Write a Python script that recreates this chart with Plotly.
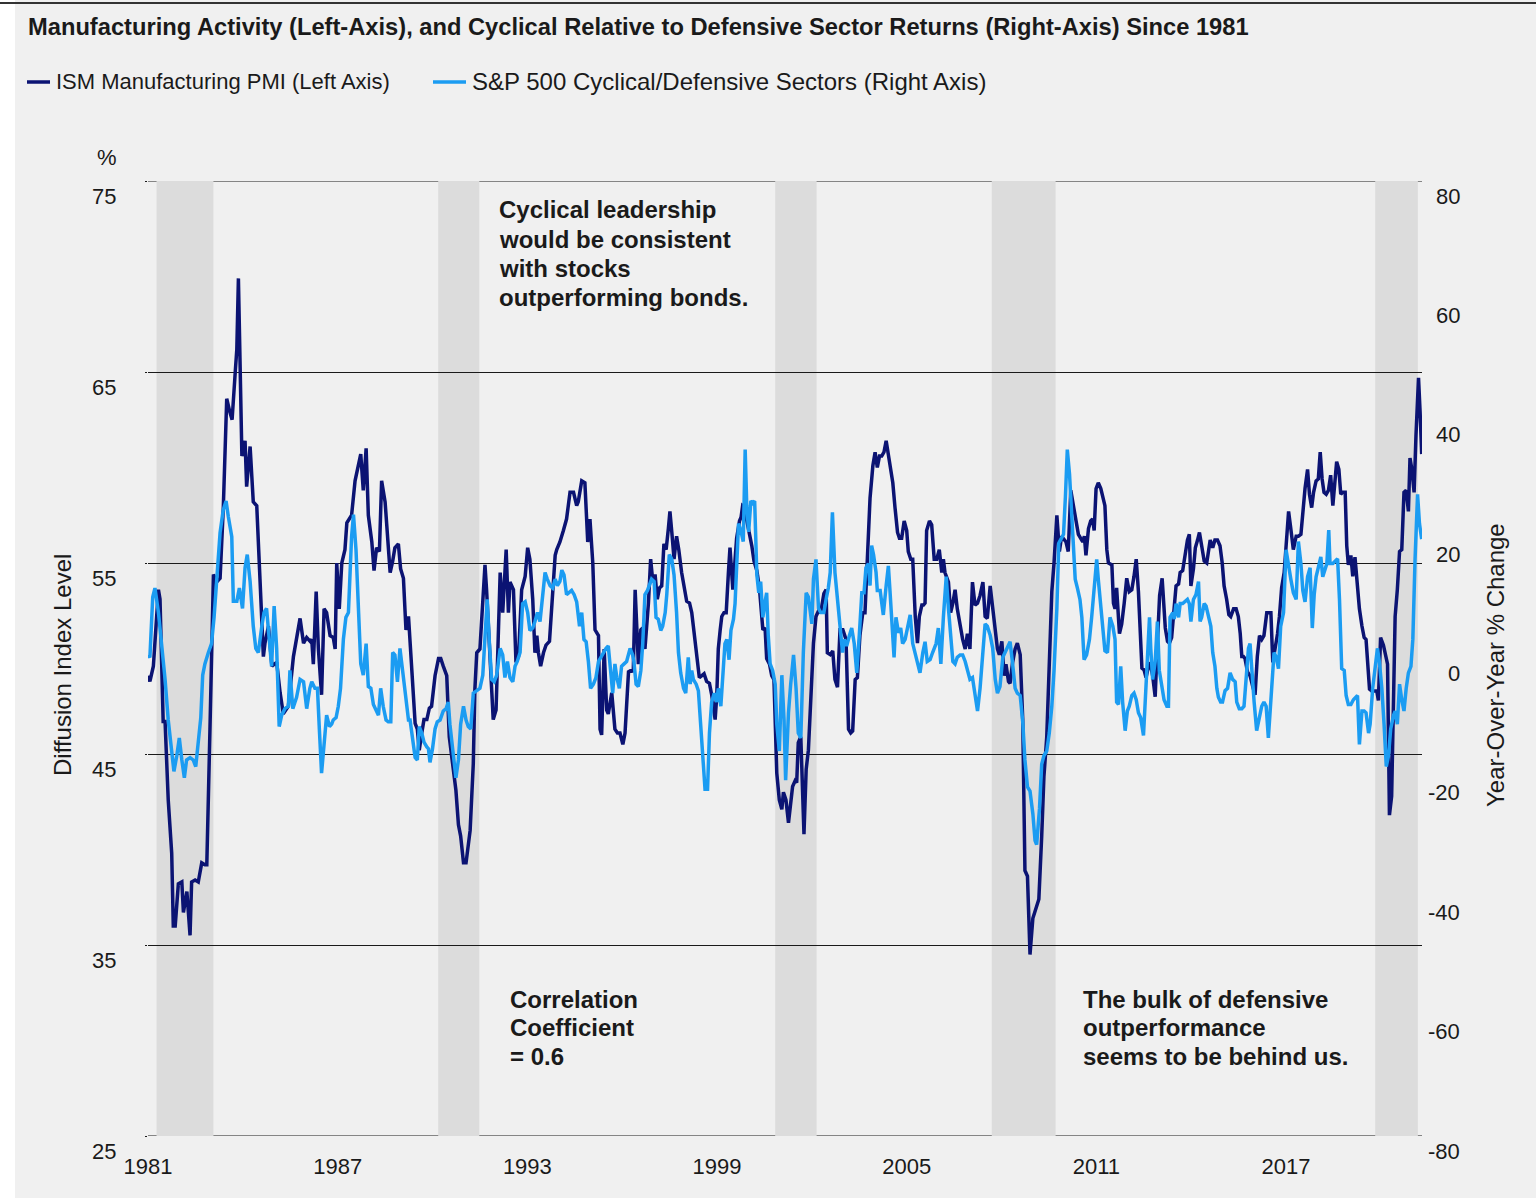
import plotly.graph_objects as go

# ---------------------------------------------------------------- data
# ISM Manufacturing PMI (left axis)
ism_year = [
    1981.00, 1981.06, 1981.17, 1981.33, 1981.38, 1981.48, 1981.54, 1981.64, 1981.75, 1981.80, 1981.86, 1981.96,
    1982.07, 1982.12, 1982.23, 1982.28, 1982.33, 1982.38, 1982.49, 1982.59, 1982.70, 1982.80, 1982.86, 1982.96,
    1983.07, 1983.17, 1983.28, 1983.38, 1983.49, 1983.59, 1983.66, 1983.76, 1983.81, 1983.86, 1983.97,
    1984.07, 1984.12, 1984.23, 1984.33, 1984.44, 1984.54, 1984.65, 1984.70, 1984.81, 1984.92,
    1985.07, 1985.18, 1985.28, 1985.44, 1985.60, 1985.81, 1985.92,
    1986.02, 1986.13, 1986.18, 1986.23, 1986.32, 1986.39, 1986.49, 1986.57, 1986.65, 1986.76, 1986.86, 1986.92, 1986.97,
    1987.05, 1987.13, 1987.18, 1987.23, 1987.29, 1987.37, 1987.44, 1987.55, 1987.65, 1987.73, 1987.81, 1987.90, 1987.97,
    1988.08, 1988.15, 1988.23, 1988.32, 1988.39, 1988.50, 1988.57, 1988.66, 1988.74, 1988.81, 1988.92, 1988.99,
    1989.08, 1989.16, 1989.24, 1989.34, 1989.45, 1989.52, 1989.58, 1989.66, 1989.73, 1989.82, 1989.90, 1989.97,
    1990.08, 1990.19, 1990.26, 1990.34, 1990.45, 1990.53, 1990.64, 1990.74, 1990.82, 1990.89, 1990.98,
    1991.06, 1991.19, 1991.29, 1991.34, 1991.40, 1991.50, 1991.56, 1991.66, 1991.71, 1991.82, 1991.92,
    1992.01, 1992.06, 1992.14, 1992.22, 1992.33, 1992.40, 1992.45, 1992.56, 1992.64, 1992.72, 1992.82, 1992.93,
    1993.01, 1993.08, 1993.17, 1993.24, 1993.30, 1993.35, 1993.42, 1993.51, 1993.59, 1993.70, 1993.77, 1993.88, 1993.93,
    1994.03, 1994.14, 1994.24, 1994.35, 1994.46, 1994.56, 1994.61, 1994.72, 1994.82, 1994.91, 1994.98,
    1995.07, 1995.14, 1995.25, 1995.30, 1995.35, 1995.43, 1995.51, 1995.56, 1995.67, 1995.77, 1995.85, 1995.93,
    1996.02, 1996.09, 1996.20, 1996.30, 1996.35, 1996.41, 1996.46, 1996.51, 1996.59, 1996.65, 1996.72, 1996.83, 1996.90, 1996.97,
    1997.04, 1997.11, 1997.18, 1997.25, 1997.32, 1997.39, 1997.46, 1997.51, 1997.57, 1997.64, 1997.72, 1997.79, 1997.88, 1997.96,
    1998.04, 1998.13, 1998.20, 1998.25, 1998.30, 1998.38, 1998.44, 1998.52, 1998.59, 1998.67, 1998.76, 1998.83, 1998.88, 1998.94, 1998.99,
    1999.04, 1999.10, 1999.15, 1999.22, 1999.29, 1999.36, 1999.41, 1999.50, 1999.57, 1999.62, 1999.71, 1999.76, 1999.81, 1999.89, 1999.92, 1999.97,
    2000.04, 2000.10, 2000.17, 2000.26, 2000.34, 2000.38, 2000.45, 2000.52, 2000.57, 2000.66, 2000.73, 2000.80, 2000.89, 2000.97,
    2001.05, 2001.10, 2001.18, 2001.26, 2001.39, 2001.47, 2001.52, 2001.57, 2001.65, 2001.75, 2001.82, 2001.89, 2001.96,
    2002.05, 2002.13, 2002.21, 2002.28, 2002.38, 2002.45, 2002.49, 2002.58, 2002.66, 2002.73, 2002.81, 2002.89, 2002.98,
    2003.08, 2003.16, 2003.23, 2003.29, 2003.37, 2003.44, 2003.52, 2003.61, 2003.68, 2003.74, 2003.79, 2003.84, 2003.93,
    2004.00, 2004.07, 2004.14, 2004.21, 2004.28, 2004.35, 2004.42, 2004.49, 2004.56, 2004.63, 2004.71, 2004.77, 2004.84, 2004.92,
    2005.00, 2005.05, 2005.13, 2005.19, 2005.27, 2005.34, 2005.40, 2005.48, 2005.53, 2005.58, 2005.63, 2005.72, 2005.79, 2005.87, 2005.95,
    2006.03, 2006.11, 2006.16, 2006.21, 2006.32, 2006.39, 2006.46, 2006.53, 2006.60, 2006.69, 2006.77, 2006.85, 2006.92,
    2007.00, 2007.08, 2007.16, 2007.24, 2007.32, 2007.41, 2007.48, 2007.55, 2007.64, 2007.72, 2007.80, 2007.87, 2007.93,
    2008.01, 2008.08, 2008.14, 2008.22, 2008.27, 2008.35, 2008.43, 2008.50, 2008.59, 2008.67, 2008.74, 2008.82, 2008.90, 2008.99,
    2009.09, 2009.18, 2009.27, 2009.34, 2009.43, 2009.51, 2009.59, 2009.66, 2009.75, 2009.83, 2009.90,
    2010.04, 2010.11, 2010.19, 2010.27, 2010.36, 2010.43, 2010.50, 2010.57, 2010.62, 2010.67, 2010.75, 2010.82, 2010.88, 2010.93, 2010.99,
    2011.06, 2011.14, 2011.20, 2011.27, 2011.33, 2011.38, 2011.49, 2011.54, 2011.59, 2011.64, 2011.73, 2011.80, 2011.88, 2011.96,
    2012.04, 2012.12, 2012.19, 2012.26, 2012.33, 2012.38, 2012.44, 2012.51, 2012.57, 2012.65, 2012.70, 2012.78, 2012.86, 2012.91,
    2013.00, 2013.08, 2013.12, 2013.18, 2013.25, 2013.31, 2013.38, 2013.46, 2013.52, 2013.60, 2013.65, 2013.73, 2013.81, 2013.88, 2013.94, 2013.99,
    2014.07, 2014.13, 2014.20, 2014.26, 2014.33, 2014.41, 2014.49, 2014.54, 2014.60, 2014.68, 2014.75, 2014.83, 2014.91, 2014.98,
    2015.04, 2015.12, 2015.19, 2015.25, 2015.34, 2015.42, 2015.49, 2015.55, 2015.60, 2015.65, 2015.70, 2015.78, 2015.86, 2015.95,
    2016.02, 2016.09, 2016.16, 2016.23, 2016.30, 2016.39, 2016.52, 2016.58, 2016.65, 2016.73, 2016.79, 2016.86, 2016.94,
    2017.00, 2017.08, 2017.15, 2017.23, 2017.32, 2017.39, 2017.47, 2017.53, 2017.60, 2017.68, 2017.74, 2017.81, 2017.87, 2017.95,
    2018.02, 2018.08, 2018.14, 2018.20, 2018.27, 2018.34, 2018.41, 2018.48, 2018.55, 2018.60, 2018.67, 2018.73, 2018.79, 2018.87, 2018.92, 2018.97,
    2019.05, 2019.11, 2019.18, 2019.26, 2019.32, 2019.40, 2019.47, 2019.53, 2019.57, 2019.64, 2019.71, 2019.79, 2019.87, 2019.92, 2019.99,
    2020.08, 2020.13, 2020.21, 2020.27, 2020.34, 2020.45, 2020.52, 2020.59, 2020.66, 2020.73, 2020.80, 2020.87, 2020.92, 2020.98,
    2021.05, 2021.11, 2021.19, 2021.24, 2021.29,
]
ism_pmi = [
    49.1, 48.8, 49.6, 53.6, 53.1, 46.7, 46.7, 42.6, 39.8, 36.0, 36.0, 38.2,
    38.3, 36.7, 37.8, 36.7, 35.5, 38.3, 38.4, 38.3, 39.3, 39.2, 39.2, 46.3,
    54.4, 54.0, 54.2, 57.8, 63.6, 62.9, 62.5, 65.0, 66.2, 69.9, 60.6,
    61.4, 59.0, 61.1, 58.2, 58.0, 54.5, 50.1, 50.8, 51.7, 49.6,
    49.8, 48.2, 47.1, 47.5, 50.1, 52.1, 50.8,
    51.1, 50.9, 51.0, 49.7, 53.5, 50.5, 48.1, 52.6, 52.4, 51.2, 51.1, 50.5, 55.0,
    52.6, 55.0, 55.4, 55.7, 57.1, 57.3, 57.5, 59.3, 60.1, 60.7, 58.8, 61.0, 57.5,
    56.1, 54.6, 55.8, 55.6, 59.3, 58.2, 56.5, 54.5, 55.1, 55.8, 56.0, 54.7,
    54.2, 51.5, 52.2, 49.4, 46.6, 46.3, 45.2, 46.1, 46.8, 46.8, 47.4, 47.5,
    49.1, 50.0, 50.0, 49.6, 49.1, 45.9, 44.5, 43.1, 41.3, 40.7, 39.3,
    39.3, 41.0, 44.5, 48.4, 50.3, 50.5, 52.2, 54.9, 53.6, 49.8, 46.8,
    47.3, 50.5, 54.5, 52.4, 55.7, 52.4, 54.0, 53.6, 49.8, 50.1, 53.6, 54.3,
    55.8, 55.2, 53.1, 50.3, 51.2, 50.3, 49.6, 50.3, 50.7, 50.9, 52.6, 55.4, 55.7,
    56.1, 56.7, 57.3, 58.7, 58.7, 58.0, 58.2, 59.3, 59.2, 56.1, 57.3,
    55.0, 51.5, 51.2, 46.3, 46.0, 50.5, 47.3, 47.1, 48.2, 46.3, 46.1, 46.1,
    45.5, 46.1, 49.3, 49.4, 49.3, 53.6, 51.7, 49.7, 51.5, 51.6, 50.5, 52.9, 55.2, 54.0,
    54.4, 53.1, 53.7, 53.8, 56.0, 55.7, 56.8, 57.7, 56.6, 55.2, 56.4, 55.7, 54.5, 53.7,
    53.0, 52.9, 52.4, 51.7, 51.0, 49.8, 49.0, 49.1, 49.2, 48.8, 48.7, 48.1, 47.5, 46.8, 48.0,
    50.5, 51.5, 52.2, 52.4, 52.4, 54.5, 55.8, 53.6, 55.4, 56.3, 57.2, 57.4, 58.0, 57.9, 57.4, 57.0,
    56.5, 55.9, 55.1, 54.6, 53.7, 52.9, 51.5, 51.6, 50.0, 49.7, 49.1, 48.9, 44.0, 42.6,
    42.1, 43.0, 42.6, 41.4, 43.3, 43.6, 43.5, 45.6, 45.9, 40.8, 44.2, 45.2, 47.5,
    50.8, 52.2, 52.5, 52.4, 53.4, 53.6, 50.3, 50.2, 50.4, 48.9, 48.5, 51.5, 51.5,
    51.0, 46.3, 46.1, 46.2, 48.9, 49.0, 51.2, 52.4, 52.4, 54.5, 56.4, 58.4, 60.1,
    60.8, 60.0, 60.6, 60.6, 60.8, 61.4, 60.7, 59.9, 59.2, 57.9, 56.6, 56.3, 56.3, 57.2,
    56.7, 55.6, 55.2, 55.2, 52.2, 50.8, 52.2, 52.8, 52.8, 52.9, 56.7, 57.2, 57.0, 55.2, 55.2,
    55.7, 54.5, 55.2, 54.5, 54.0, 52.4, 52.9, 53.6, 52.6, 51.7, 51.0, 50.5, 51.3,
    50.5, 54.0, 52.8, 52.9, 53.3, 54.0, 52.2, 52.1, 53.8, 52.6, 51.3, 50.5, 50.2,
    50.9, 49.1, 49.7, 48.8, 48.7, 49.8, 50.5, 50.8, 50.2, 46.8, 38.9, 38.6, 34.5, 36.4,
    36.9, 37.4, 40.7, 43.8, 45.9, 50.3, 53.5, 55.0, 57.5, 55.6, 56.4,
    56.1, 55.6, 58.8, 58.0, 57.3, 56.5, 56.3, 56.1, 56.4, 55.4, 56.8, 57.2, 57.3, 56.7, 58.9,
    59.2, 58.9, 58.5, 58.0, 55.7, 55.0, 54.9, 52.9, 52.6, 53.7, 51.3, 51.8, 52.9, 54.2,
    53.5, 53.6, 54.3, 55.2, 53.5, 51.7, 49.5, 49.4, 49.0, 49.6, 49.8, 49.1, 48.0, 50.1,
    53.3, 54.2, 52.9, 51.6, 50.9, 50.8, 51.1, 52.9, 53.8, 53.9, 54.5, 54.6, 55.4, 56.2, 56.5, 53.8,
    54.7, 55.8, 56.2, 56.6, 55.9, 55.1, 55.0, 55.7, 56.2, 55.8, 56.2, 56.2, 55.9, 55.0,
    53.8, 53.1, 52.3, 52.2, 52.6, 52.6, 52.2, 51.3, 50.1, 50.1, 50.0, 49.3, 49.1, 48.5,
    48.1, 50.1, 51.2, 51.0, 51.2, 52.4, 52.4, 49.8, 50.5, 51.3, 52.2, 53.7, 54.5,
    55.9, 57.7, 56.8, 55.7, 56.4, 56.4, 56.5, 57.8, 58.9, 59.9, 58.6, 57.9, 58.7, 59.3,
    59.4, 60.8, 59.4, 58.7, 58.6, 58.8, 59.6, 58.0, 59.1, 60.3, 59.9, 58.6, 58.7, 58.7, 55.9, 54.9,
    55.4, 54.3, 55.3, 53.7, 52.6, 51.7, 51.1, 51.0, 49.8, 48.4, 48.3, 48.3, 48.3, 47.8, 51.1,
    50.7, 50.3, 49.7, 41.8, 42.8, 52.2, 53.6, 55.6, 55.7, 58.7, 58.8, 57.7, 60.5, 59.9,
    58.7, 61.7, 64.7, 62.9, 60.7,
]

# S&P 500 Cyclical / Defensive sectors, year-over-year % change (right axis)
sp_year = [
    1981.00, 1981.06, 1981.15, 1981.22, 1981.33, 1981.43, 1981.54, 1981.64, 1981.75, 1981.82, 1981.91, 1981.99,
    1982.07, 1982.15, 1982.22, 1982.33, 1982.43, 1982.51, 1982.59, 1982.67, 1982.73, 1982.80, 1982.91,
    1983.01, 1983.09, 1983.17, 1983.28, 1983.38, 1983.47, 1983.54, 1983.65, 1983.70, 1983.81, 1983.89, 1983.99,
    1984.07, 1984.14, 1984.23, 1984.33, 1984.41, 1984.49, 1984.60, 1984.67, 1984.75, 1984.86, 1984.91, 1984.99,
    1985.07, 1985.15, 1985.23, 1985.33, 1985.44, 1985.49, 1985.58, 1985.70, 1985.81, 1985.92,
    1986.02, 1986.12, 1986.18, 1986.28, 1986.36, 1986.42, 1986.49, 1986.57, 1986.65, 1986.74, 1986.81, 1986.86, 1986.95,
    1987.02, 1987.09, 1987.18, 1987.26, 1987.34, 1987.39, 1987.44, 1987.50, 1987.58, 1987.65, 1987.73, 1987.81, 1987.90, 1987.97,
    1988.05, 1988.13, 1988.21, 1988.29, 1988.36, 1988.44, 1988.53, 1988.60, 1988.68, 1988.74, 1988.81, 1988.89, 1988.97,
    1989.06, 1989.16, 1989.24, 1989.29, 1989.37, 1989.45, 1989.52, 1989.58, 1989.66, 1989.73, 1989.82, 1989.87, 1989.92,
    1990.00, 1990.08, 1990.15, 1990.24, 1990.34, 1990.43, 1990.50, 1990.55, 1990.64, 1990.74, 1990.82, 1990.89, 1990.98,
    1991.06, 1991.13, 1991.21, 1991.29, 1991.40, 1991.50, 1991.59, 1991.66, 1991.73, 1991.80, 1991.87, 1991.95,
    1992.03, 1992.14, 1992.22, 1992.29, 1992.37, 1992.45, 1992.54, 1992.61, 1992.68, 1992.77, 1992.85, 1992.93,
    1993.01, 1993.08, 1993.17, 1993.24, 1993.32, 1993.40, 1993.49, 1993.56, 1993.63, 1993.72, 1993.80, 1993.88, 1993.95,
    1994.03, 1994.09, 1994.16, 1994.24, 1994.33, 1994.40, 1994.48, 1994.56, 1994.65, 1994.72, 1994.79, 1994.86, 1994.93,
    1995.00, 1995.09, 1995.17, 1995.25, 1995.32, 1995.40, 1995.49, 1995.56, 1995.64, 1995.70, 1995.77, 1995.83, 1995.91, 1995.98,
    1996.06, 1996.14, 1996.25, 1996.33, 1996.37, 1996.44, 1996.51, 1996.59, 1996.65, 1996.72, 1996.80, 1996.86, 1996.93,
    1997.01, 1997.07, 1997.14, 1997.22, 1997.28, 1997.36, 1997.41, 1997.49, 1997.57, 1997.64, 1997.72, 1997.78, 1997.85, 1997.94,
    1998.01, 1998.09, 1998.15, 1998.20, 1998.25, 1998.34, 1998.41, 1998.48, 1998.55, 1998.62, 1998.70, 1998.76, 1998.83, 1998.91, 1998.99,
    1999.04, 1999.12, 1999.18, 1999.25, 1999.31, 1999.38, 1999.44, 1999.52, 1999.57, 1999.62, 1999.68, 1999.75, 1999.83, 1999.89, 1999.94,
    2000.00, 2000.07, 2000.13, 2000.19, 2000.26, 2000.32, 2000.38, 2000.45, 2000.52, 2000.57, 2000.62, 2000.68, 2000.76, 2000.84, 2000.89, 2000.97,
    2001.05, 2001.12, 2001.17, 2001.26, 2001.33, 2001.42, 2001.50, 2001.57, 2001.65, 2001.73, 2001.82, 2001.89,
    2002.00, 2002.05, 2002.13, 2002.21, 2002.28, 2002.38, 2002.45, 2002.52, 2002.58, 2002.65, 2002.73, 2002.81, 2002.89, 2002.97,
    2003.02, 2003.10, 2003.19, 2003.26, 2003.34, 2003.42, 2003.50, 2003.58, 2003.65, 2003.71, 2003.79, 2003.84, 2003.89, 2003.95,
    2004.03, 2004.07, 2004.16, 2004.21, 2004.26, 2004.35, 2004.42, 2004.47, 2004.53, 2004.60, 2004.66, 2004.74, 2004.81, 2004.87, 2004.95,
    2005.02, 2005.11, 2005.19, 2005.26, 2005.34, 2005.42, 2005.51, 2005.58, 2005.65, 2005.74, 2005.82, 2005.93,
    2006.00, 2006.08, 2006.16, 2006.25, 2006.32, 2006.46, 2006.53, 2006.60, 2006.69, 2006.77, 2006.85, 2006.92,
    2007.00, 2007.08, 2007.16, 2007.24, 2007.32, 2007.41, 2007.48, 2007.55, 2007.64, 2007.72, 2007.80, 2007.87, 2007.95,
    2008.04, 2008.11, 2008.18, 2008.27, 2008.35, 2008.43, 2008.50, 2008.59, 2008.67, 2008.74, 2008.82, 2008.90, 2008.99,
    2009.06, 2009.11, 2009.20, 2009.27, 2009.34, 2009.43, 2009.51, 2009.59, 2009.66, 2009.75, 2009.81, 2009.88, 2009.96,
    2010.02, 2010.08, 2010.15, 2010.22, 2010.27, 2010.33, 2010.40, 2010.48, 2010.54, 2010.61, 2010.69, 2010.78, 2010.85, 2010.93,
    2011.01, 2011.06, 2011.12, 2011.20, 2011.27, 2011.35, 2011.43, 2011.52, 2011.59, 2011.64, 2011.70, 2011.77, 2011.83, 2011.91, 2011.98,
    2012.04, 2012.12, 2012.19, 2012.26, 2012.33, 2012.40, 2012.49, 2012.57, 2012.65, 2012.68, 2012.72, 2012.78, 2012.86, 2012.93, 2012.99,
    2013.07, 2013.14, 2013.23, 2013.28, 2013.33, 2013.42, 2013.46, 2013.52, 2013.60, 2013.65, 2013.73, 2013.81, 2013.88, 2013.94, 2013.99,
    2014.07, 2014.15, 2014.23, 2014.28, 2014.33, 2014.41, 2014.47, 2014.54, 2014.62, 2014.68, 2014.75, 2014.81, 2014.86, 2014.93, 2014.99,
    2015.07, 2015.15, 2015.23, 2015.31, 2015.39, 2015.44, 2015.52, 2015.60, 2015.67, 2015.74, 2015.81, 2015.86, 2015.91, 2015.99,
    2016.07, 2016.16, 2016.23, 2016.30, 2016.37, 2016.44, 2016.55, 2016.62, 2016.69, 2016.76, 2016.83, 2016.92,
    2017.00, 2017.08, 2017.15, 2017.23, 2017.32, 2017.39, 2017.47, 2017.53, 2017.60, 2017.68, 2017.76, 2017.83, 2017.89, 2017.95,
    2018.02, 2018.10, 2018.16, 2018.24, 2018.29, 2018.35, 2018.39, 2018.48, 2018.55, 2018.63, 2018.69, 2018.76, 2018.84, 2018.90, 2018.97,
    2019.05, 2019.13, 2019.26, 2019.32, 2019.40, 2019.47, 2019.53, 2019.61, 2019.66, 2019.74, 2019.82, 2019.89, 2019.95,
    2020.03, 2020.10, 2020.17, 2020.24, 2020.31, 2020.40, 2020.45, 2020.52, 2020.59, 2020.66, 2020.73, 2020.80, 2020.87, 2020.95,
    2021.01, 2021.08, 2021.16, 2021.22, 2021.29,
]
sp_ratio = [
    0.6, 0.2, 10.3, 11.8, 7.7, 2.5, -3.5, -10.3, -15.5, -18.9, -16.3, -13.3,
    -17.0, -20.0, -17.0, -16.6, -17.0, -18.1, -14.0, -9.9, -2.8, -0.9, 1.0,
    2.5, 6.9, 12.2, 21.1, 24.9, 26.4, 23.8, 20.4, 9.6, 9.6, 11.8, 8.4,
    15.2, 17.4, 12.9, 5.4, 1.7, 1.0, 5.4, 7.7, 8.4, 1.7, -1.3, 8.8,
    1.7, -11.4, -9.5, -8.4, -8.0, -2.0, -8.4, -6.5, -3.5, -3.9,
    -8.4, -5.0, -3.9, -5.0, -5.0, -11.8, -19.2, -14.4, -9.5, -11.4, -11.0, -10.3, -9.9,
    -8.0, -5.0, 3.2, 6.9, 7.7, 14.4, 20.4, 24.1, 18.2, 9.2, -0.9, -2.8, 2.5, -4.7,
    -5.0, -7.7, -8.8, -9.5, -5.0, -8.0, -10.3, -10.6, -10.6, 1.0, 0.6, -3.9, 1.7,
    -2.0, -6.5, -10.3, -10.3, -14.0, -16.6, -17.0, -11.4, -12.5, -14.0, -14.8, -15.1, -17.4,
    -15.1, -11.8, -10.6, -10.3, -8.8, -8.4, -7.3, -11.0, -14.8, -20.0, -17.0, -11.0, -8.0,
    -10.3, -11.4, -11.8, -5.8, -5.4, -5.0, -2.8, 3.2, 9.9, 2.5, -3.5, -3.9,
    -2.8, 1.7, 0.6, -3.2, -0.5, -3.2, -3.9, -1.3, -0.5, 1.0, 9.2, 9.5,
    7.7, 4.7, 5.1, 6.2, 7.7, 6.2, 11.0, 14.4, 13.3, 12.2, 11.8, 13.3, 12.2,
    12.9, 14.8, 14.0, 10.7, 11.0, 11.4, 10.7, 9.5, 5.4, 7.7, 3.2, 2.8, -0.5,
    -5.0, -4.3, -3.2, -0.5, 0.2, 1.0, 1.7, 2.1, -1.7, -5.8, -0.9, -3.2, -5.0, -1.3,
    -0.9, -0.5, 1.7, 0.6, -0.5, -4.3, -4.7, -2.0, 2.5, 10.7, 11.4, 12.2, 13.3,
    12.9, 6.9, 6.6, 4.7, 5.4, 7.7, 10.7, 17.4, 16.6, 14.0, 7.7, 1.0, -2.4, -5.0,
    -5.8, 0.2, -4.3, -2.0, -3.5, -4.3, -5.4, -11.0, -17.7, -21.9, -21.9, -12.5, -7.3, -5.8, -7.3,
    -5.0, -8.0, -2.0, 2.5, 3.2, -0.2, 4.7, 6.6, 9.2, 16.6, 22.6, 21.5, 19.6, 35.0, 25.6,
    21.2, 26.4, 26.0, 26.4, 14.0, 11.0, 12.9, 6.9, 9.5, 11.0, 3.9, -0.9, -2.0, -4.3, -11.0, -15.5,
    -2.8, -10.3, -20.4, -9.1, -4.3, 0.6, -5.0, -12.5, -13.3, 1.0, 11.0, 10.3,
    5.8, 13.3, 16.6, 8.4, 7.7, 7.7, 9.9, 11.8, 14.4, 24.5, 14.4, 9.9, 5.4, 1.0,
    3.2, 2.1, 3.9, 5.1, 2.5, -2.4, 3.9, 11.0, 11.0, 15.2, 15.9, 12.2, 18.9, 17.4,
    14.4, 11.4, 11.4, 9.2, 7.3, 12.2, 15.5, 11.4, 6.2, 0.2, 6.9, 4.3, 5.1, 2.5, 3.2,
    5.1, 7.3, 2.5, 1.0, -0.5, -2.4, 1.0, 2.8, -0.5, -0.2, 1.0, 2.5,
    5.1, -0.9, 6.9, 13.7, 8.4, -0.5, -0.9, 0.2, 0.6, 0.6, -0.5, -2.0,
    -3.5, -3.2, -5.8, -8.8, -5.0, 1.0, 5.8, 5.4, 3.9, 1.7, -3.5, -5.8, -4.7,
    0.2, 1.0, 1.7, 2.8, -0.9, -5.0, -5.8, -6.2, -10.6, -17.0, -21.5, -22.2, -26.0,
    -30.5, -31.2, -25.2, -17.7, -16.3, -15.5, -12.5, -8.0, -2.0, 8.4, 19.3, 20.0, 20.8,
    27.1, 35.0, 30.9, 24.5, 18.9, 13.3, 11.8, 9.9, 6.9, -0.2, 0.6, 3.2, 6.9, 11.4,
    16.6, 13.3, 9.9, 4.7, 1.3, 1.0, 6.9, 5.4, 3.2, -7.3, -7.7, -1.3, -7.3, -12.1, -8.8,
    -8.0, -6.2, -5.8, -6.9, -9.1, -9.9, -12.9, -5.0, 2.5, 6.9, 1.7, -3.5, -0.5, 6.2, -2.0,
    -5.0, -6.9, -8.0, -8.0, 6.9, 7.7, 6.6, 9.2, 6.9, 9.2, 9.2, 9.5, 9.9, 9.2, 6.2,
    9.9, 10.7, 12.9, 6.2, 6.9, 9.2, 8.8, 6.9, 5.4, 1.0, -1.3, -5.0, -6.5, -7.3, -7.3,
    -5.4, -5.0, -2.4, -3.5, -3.9, -7.3, -8.4, -8.4, -8.0, -2.8, 1.7, 2.5, -2.0, -7.3,
    -12.1, -9.5, -8.0, -7.3, -8.0, -13.3, -5.0, 1.0, 0.2, -1.7, 5.4, 7.7,
    18.2, 15.2, 13.3, 11.0, 9.9, 19.6, 15.9, 11.4, 9.5, 13.7, 15.2, 5.1, 10.7, 13.7,
    15.2, 17.0, 13.7, 14.8, 15.9, 21.5, 15.9, 15.9, 16.3, 16.7, 9.9, -1.7, -2.0, -6.2, -7.7,
    -7.7, -6.9, -6.2, -14.4, -8.8, -8.8, -9.1, -12.5, -11.0, -5.0, -1.7, 1.7, -0.5,
    -5.0, -11.0, -18.1, -16.3, -11.8, -9.5, -8.8, -11.0, -4.3, -6.9, -8.8, -5.0, -2.4, -1.3,
    3.2, 16.6, 27.5, 22.6, 20.0,
]

if len(ism_year) != len(ism_pmi) or len(sp_year) != len(sp_ratio):
    raise SystemExit(f"length mismatch: {len(ism_year)} {len(ism_pmi)} {len(sp_year)} {len(sp_ratio)}")

# recession shading (as drawn)
recession_start = [1981.27, 1990.18, 2000.84, 2007.69, 2019.82]
recession_end = [1983.07, 1991.48, 2002.15, 2009.71, 2021.17]

x_tick_years = [1981, 1987, 1993, 1999, 2005, 2011, 2017]
left_ticks = [25, 35, 45, 55, 65, 75]
right_ticks = [-80, -60, -40, -20, 0, 20, 40, 60, 80]

title_text = ("Manufacturing Activity (Left-Axis), and Cyclical Relative to Defensive "
              "Sector Returns (Right-Axis) Since 1981")
ism_name = "ISM Manufacturing PMI (Left Axis)"
sp_name = "S&amp;P 500 Cyclical/Defensive Sectors (Right Axis)"
left_title = "Diffusion Index Level"
right_title = "Year-Over-Year % Change"
note_top = ["Cyclical leadership", "would be consistent", "with stocks", "outperforming bonds."]
note_corr = ["Correlation", "Coefficient", "= 0.6"]
note_def = ["The bulk of defensive", "outperformance", "seems to be behind us."]

# ---------------------------------------------------------------- style / layout
W, H = 1536, 1198
ML, MR, MT, MB = 148, 114, 181, 62
PW, PH = W - ML - MR, H - MT - MB
NAVY = "#0b1373"
SKY = "#1b9cf2"
BG = "#f0f0f0"
TXT = "#1a1a1a"
FONT = "Liberation Sans, Arial, Helvetica, sans-serif"


def fx(px):
    return (px - ML) / PW


def fy(py):
    return (MT + PH - py) / PH


fig = go.Figure()
fig.add_trace(go.Scatter(x=ism_year, y=ism_pmi, mode="lines", name="ISM Manufacturing PMI",
                         line=dict(color=NAVY, width=3.5), hoverinfo="skip", showlegend=False))
fig.add_trace(go.Scatter(x=sp_year, y=sp_ratio, mode="lines", name="S&P 500 Cyclical/Defensive",
                         yaxis="y2", line=dict(color=SKY, width=3.5), hoverinfo="skip", showlegend=False))

shapes = []
# edge gridlines (top 75, bottom 25) which plotly omits at the range limits
for v in (left_ticks[0], left_ticks[-1]):
    shapes.append(dict(type="line", xref="paper", yref="y", x0=0, x1=1, y0=v, y1=v,
                       line=dict(color="#1a1a1a", width=1), layer="below"))
for s, e in zip(recession_start, recession_end):
    shapes.append(dict(type="rect", xref="x", yref="paper", x0=s, x1=e, y0=0, y1=1,
                       fillcolor="#dcdcdc", line=dict(width=0), layer="between"))
# page frame: white left strip and dark top rule
shapes.append(dict(type="rect", xref="paper", yref="paper", x0=fx(0), x1=fx(15), y0=fy(H), y1=fy(0),
                   fillcolor="white", line=dict(width=0), layer="below"))
shapes.append(dict(type="line", xref="paper", yref="paper", x0=fx(0), x1=fx(W), y0=fy(3), y1=fy(3),
                   line=dict(color="#333333", width=2)))
# legend keys
shapes.append(dict(type="line", xref="paper", yref="paper", x0=fx(27), x1=fx(50), y0=fy(82), y1=fy(82),
                   line=dict(color=NAVY, width=3.5)))
shapes.append(dict(type="line", xref="paper", yref="paper", x0=fx(433), x1=fx(466), y0=fy(82), y1=fy(82),
                   line=dict(color=SKY, width=3.5)))

ann = []
ann.append(dict(text="<b>" + title_text + "</b>", x=fx(26), y=fy(27), xanchor="left", yanchor="middle",
                font=dict(size=23.7, color=TXT, family=FONT)))
ann.append(dict(text=ism_name, x=fx(54), y=fy(82), xanchor="left", yanchor="middle",
                font=dict(size=22, color=TXT, family=FONT)))
ann.append(dict(text=sp_name, x=fx(470), y=fy(82), xanchor="left", yanchor="middle",
                font=dict(size=24, color=TXT, family=FONT)))
ann.append(dict(text="%", x=fx(119), y=fy(158), xanchor="right", yanchor="middle",
                font=dict(size=22, color=TXT, family=FONT)))
ann.append(dict(text=left_title, x=fx(62), y=fy(665), xanchor="center", yanchor="middle", textangle=-90,
                font=dict(size=24, color=TXT, family=FONT)))
ann.append(dict(text=right_title, x=fx(1495), y=fy(665), xanchor="center", yanchor="middle", textangle=-90,
                font=dict(size=24, color=TXT, family=FONT)))
for v in right_ticks:
    ann.append(dict(text=str(v), xref="paper", yref="y2", x=fx(1462), y=v, yshift=-15,
                    xanchor="right", yanchor="middle", font=dict(size=22, color=TXT, family=FONT)))
for i, line in enumerate(note_top):
    ann.append(dict(text="<b>" + line + "</b>", x=fx(497), y=fy(210 + 29 * i), xanchor="left",
                    yanchor="middle", font=dict(size=24, color=TXT, family=FONT)))
for i, line in enumerate(note_corr):
    ann.append(dict(text="<b>" + line + "</b>", x=fx(508), y=fy(999 + 28.5 * i), xanchor="left",
                    yanchor="middle", font=dict(size=24, color=TXT, family=FONT)))
for i, line in enumerate(note_def):
    ann.append(dict(text="<b>" + line + "</b>", x=fx(1081), y=fy(999 + 28.5 * i), xanchor="left",
                    yanchor="middle", font=dict(size=24, color=TXT, family=FONT)))
for a in ann:
    a.setdefault("xref", "paper")
    a.setdefault("yref", "paper")
    a["showarrow"] = False

fig.update_layout(
    width=W, height=H, autosize=False,
    margin=dict(l=ML, r=MR, t=MT, b=MB, pad=0),
    paper_bgcolor=BG, plot_bgcolor=BG,
    showlegend=False,
    font=dict(family=FONT, size=22, color=TXT),
    shapes=shapes, annotations=ann,
    xaxis=dict(range=[1981.0, 2021.3], tickmode="array", tickvals=x_tick_years,
               ticktext=[str(v) for v in x_tick_years], showgrid=False, zeroline=False,
               showline=False, ticks="", tickfont=dict(size=22, color=TXT, family=FONT),
               ticklabelstandoff=15, fixedrange=True),
    yaxis=dict(range=[25, 75], tickmode="array", tickvals=left_ticks, showgrid=True,
               gridcolor="#1a1a1a", gridwidth=1, zeroline=False, showline=False,
               ticks="outside", ticklen=2, tickcolor="#1a1a1a",
               tickfont=dict(size=22, color=TXT, family=FONT),
               ticklabelshift=15, ticklabelstandoff=24, fixedrange=True),
    yaxis2=dict(range=[-80, 80], overlaying="y", side="right", showgrid=False, zeroline=False,
                showline=False, showticklabels=False, ticks="", fixedrange=True),
)

fig.write_html("out.html", config={"displayModeBar": False},
               post_script="document.body.style.margin='0';document.body.style.overflow='hidden';")
